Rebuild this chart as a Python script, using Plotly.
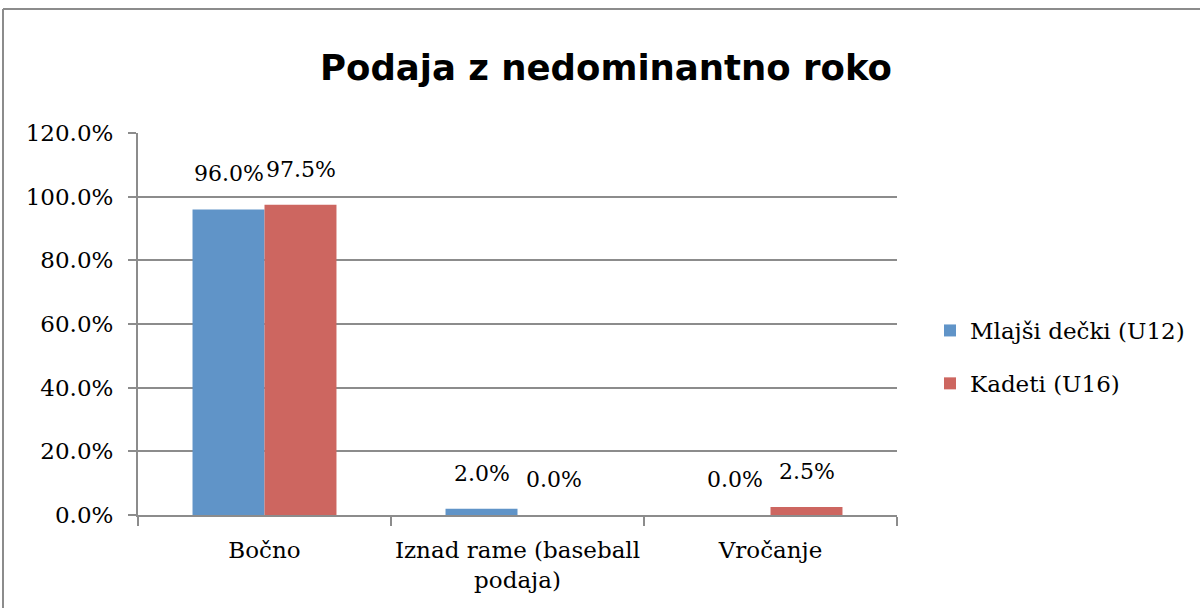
import plotly.graph_objects as go

categories = ["Bočno", "Iznad rame (baseball<br>podaja)", "Vročanje"]
series_names = ["Mlajši dečki (U12)", "Kadeti (U16)"]
u12_values = [0.96, 0.02, 0.0]
u16_values = [0.975, 0.0, 0.025]
series_colors = ["#6094C8", "#CD6660"]
y_ticks = [0, 0.2, 0.4, 0.6, 0.8, 1.0, 1.2]
title_text = "Podaja z nedominantno roko"

W, H = 1200, 608
L, R, T, B = 138, 303, 133, 93
pw, ph = W - L - R, H - T - B

serif = "DejaVu Serif"
fs = 23

fig = go.Figure()
for name, vals, col in zip(series_names, [u12_values, u16_values], series_colors):
    fig.add_trace(go.Bar(
        x=categories, y=vals, name=name, marker=dict(color=col, line=dict(width=0)),
        legendgroup=name,
    ))

# data labels
offsets = [-36, 36]
for vals, off in zip([u12_values, u16_values], offsets):
    for c, v in zip(categories, vals):
        fig.add_annotation(x=c, y=v, text=f"{v*100:.1f}%", showarrow=False,
                           xshift=off, yshift=21, yanchor="bottom", xanchor="center",
                           font=dict(family=serif, size=22, color="#000"))

def px_x(x):
    return (x - L) / pw

def px_y(y):
    return (H - B - y) / ph

# outer chart border (left and top edges visible)
border = dict(color="#8c8c8c", width=2)
fig.add_shape(type="line", xref="paper", yref="paper",
              x0=px_x(3), x1=px_x(3), y0=px_y(608), y1=px_y(9), line=border)
fig.add_shape(type="line", xref="paper", yref="paper",
              x0=px_x(3), x1=px_x(1200), y0=px_y(9), y1=px_y(9), line=border)

fig.update_layout(
    width=W, height=H,
    margin=dict(l=L, r=R, t=T, b=B, pad=0, autoexpand=False),
    plot_bgcolor="white", paper_bgcolor="white",
    barmode="group", bargap=0.431, bargroupgap=0,
    title=dict(text=f"<b>{title_text}</b>", x=606 / W, xanchor="center",
               y=1 - 68 / H, yanchor="middle", yref="container",
               font=dict(family="DejaVu Sans", size=35.5, color="#000")),
    font=dict(family=serif, size=fs, color="#000"),
    showlegend=True,
    legend=dict(x=px_x(930), xanchor="left", y=px_y(357), yanchor="middle",
                font=dict(family=serif, size=fs, color="#000"),
                tracegroupgap=20, bgcolor="rgba(0,0,0,0)"),
    xaxis=dict(showgrid=False, ticks="outside", tickson="boundaries", ticklen=9,
               tickcolor="#8c8c8c", tickwidth=2, showline=True, linecolor="#8c8c8c",
               linewidth=2, tickfont=dict(family=serif, size=fs), ticklabelstandoff=13,
               tickangle=0, automargin=False),
    yaxis=dict(range=[0, 1.2], tickvals=y_ticks, tickformat=".1%", showgrid=True,
               gridcolor="#8c8c8c", gridwidth=2, ticks="outside", ticklen=8,
               tickcolor="#8c8c8c", tickwidth=2, showline=True, linecolor="#8c8c8c",
               linewidth=2, zeroline=False, tickfont=dict(family=serif, size=fs),
               ticklabelstandoff=10, automargin=False),
)

fig.write_html("out.html", config={"displayModeBar": False},
               post_script="document.body.style.margin='0';")
